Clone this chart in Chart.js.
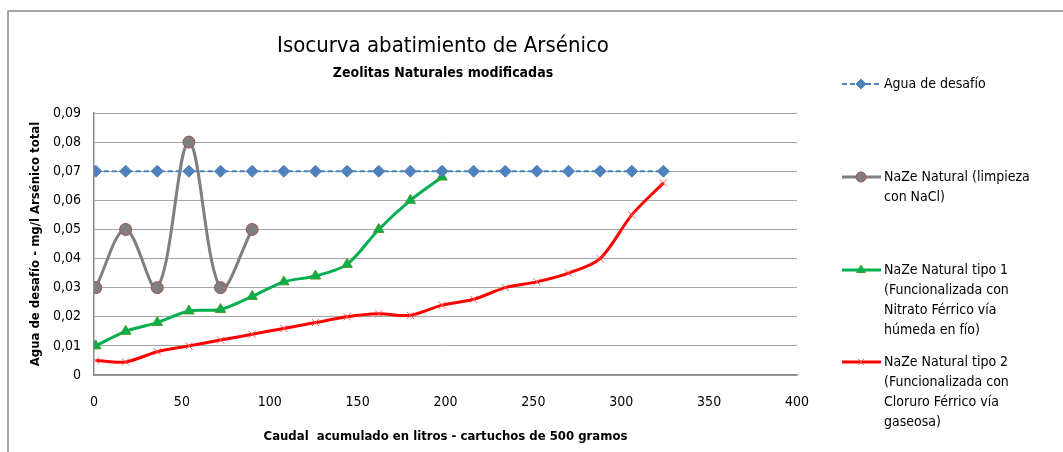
<!DOCTYPE html>
<html><head><meta charset="utf-8">
<script src="https://cdn.jsdelivr.net/npm/chart.js@4.4.0/dist/chart.umd.min.js"></script>
<style>html,body{margin:0;padding:0;background:#fff;}canvas{display:block;}</style>
</head><body>
<canvas id="c" width="1063" height="452"></canvas>
<script>
const FONT = "'Liberation Sans Narrow','Arial Narrow','DejaVu Sans Condensed',sans-serif";

const chartTitle = "Isocurva abatimiento de Arsénico";
const chartSubtitle = "Zeolitas Naturales modificadas";
const xAxisTitle = "Caudal  acumulado en litros - cartuchos de 500 gramos";
const yAxisTitle = "Agua de desafío - mg/l Arsénico total";

const xTickLabels = ["0","50","100","150","200","250","300","350","400"];
const yTickLabels = ["0","0,01","0,02","0,03","0,04","0,05","0,06","0,07","0,08","0,09"];

const aguaX = [1,18,36,54,72,90,108,126,144,162,180,198,216,234,252,270,288,306,324];
const aguaY = [0.07,0.07,0.07,0.07,0.07,0.07,0.07,0.07,0.07,0.07,0.07,0.07,0.07,0.07,0.07,0.07,0.07,0.07,0.07];

const naclX = [1,18,36,54,72,90];
const naclY = [0.03,0.05,0.03,0.08,0.03,0.05];

const tipo1X = [1,18,36,54,72,90,108,126,144,162,180,198];
const tipo1Y = [0.01,0.015,0.018,0.022,0.0225,0.027,0.032,0.034,0.038,0.05,0.06,0.068];

const tipo2X = [1,18,36,54,72,90,108,126,144,162,180,198,216,234,252,270,288,306,324];
const tipo2Y = [0.005,0.0045,0.008,0.01,0.012,0.014,0.016,0.018,0.02,0.021,0.0205,0.024,0.026,0.03,0.032,0.035,0.04,0.055,0.066];

const seriesLabels = ["Agua de desafío","NaZe Natural (limpieza con NaCl)","NaZe Natural tipo 1 (Funcionalizada con Nitrato Férrico vía húmeda en fío)","NaZe Natural tipo 2 (Funcionalizada con Cloruro Férrico vía gaseosa)"];
const legendLines = [
  ["Agua de desafío"],
  ["NaZe Natural (limpieza","con NaCl)"],
  ["NaZe Natural tipo 1","(Funcionalizada con","Nitrato Férrico vía","húmeda en fío)"],
  ["NaZe Natural tipo 2","(Funcionalizada con","Cloruro Férrico vía","gaseosa)"]
];

const pts = (xs, ys) => xs.map((x, i) => ({x: x, y: ys[i]}));

const decor = {
  id: 'decor',
  beforeDraw(chart) {
    const ctx = chart.ctx;
    ctx.save();
    ctx.strokeStyle = '#8c8c8c';
    ctx.lineWidth = 1.5;
    ctx.beginPath();
    ctx.moveTo(8, 452); ctx.lineTo(8, 11); ctx.lineTo(1063, 11);
    ctx.stroke();
    ctx.restore();
  },
  afterDraw(chart) {
    const ctx = chart.ctx;
    ctx.save();
    ctx.fillStyle = '#000';
    ctx.textAlign = 'center';
    ctx.textBaseline = 'middle';
    ctx.font = "22px " + FONT;
    ctx.fillText(chartTitle, 443, 46);
    ctx.font = "bold 14px " + FONT;
    ctx.fillText(chartSubtitle, 443, 73);
    const ys = [84, 177, 270, 362];
    const lh = 20;
    ctx.textAlign = 'left';
    ctx.font = "14px " + FONT;
    chart.data.datasets.forEach((ds, i) => {
      const y = ys[i];
      ctx.save();
      ctx.strokeStyle = ds.borderColor;
      ctx.lineWidth = ds.borderWidth;
      ctx.setLineDash(ds.borderDash || []);
      ctx.beginPath(); ctx.moveTo(842, y); ctx.lineTo(881, y); ctx.stroke();
      ctx.restore();
      ctx.save();
      ctx.fillStyle = ds.pointBackgroundColor; ctx.strokeStyle = ds.pointBorderColor; ctx.lineWidth = ds.pointBorderWidth;
      Chart.helpers.drawPoint(ctx, {pointStyle: ds.pointStyle, radius: ds.pointRadius - 1, rotation: 0, borderWidth: ds.pointBorderWidth}, 861, y);
      ctx.restore();
      ctx.fillStyle = '#000';
      legendLines[i].forEach((t, j) => ctx.fillText(t, 884, y + j * lh));
    });
    ctx.restore();
  }
};

new Chart(document.getElementById('c'), {
  type: 'line',
  data: {
    datasets: [
      {label: seriesLabels[0], data: pts(aguaX, aguaY), borderColor: '#4f81bd', borderWidth: 2, borderDash: [5,3],
       pointStyle: 'rectRot', pointRadius: 6, pointBackgroundColor: '#4f81bd', pointBorderColor: '#4f81bd', pointBorderWidth: 1, tension: 0},
      {label: seriesLabels[1], data: pts(naclX, naclY), borderColor: '#7f7f7f', borderWidth: 3,
       pointStyle: 'circle', pointRadius: 6, pointBackgroundColor: '#7f7f7f', pointBorderColor: '#a0504d', pointBorderWidth: 1, tension: 0.35},
      {label: seriesLabels[2], data: pts(tipo1X, tipo1Y), borderColor: '#00b050', borderWidth: 3,
       pointStyle: 'triangle', pointRadius: 6, pointBackgroundColor: '#00b050', pointBorderColor: '#4e9a2a', pointBorderWidth: 1, tension: 0.3},
      {label: seriesLabels[3], data: pts(tipo2X, tipo2Y), borderColor: '#ff0000', borderWidth: 3,
       pointStyle: 'crossRot', pointRadius: 5, pointBackgroundColor: '#ff0000', pointBorderColor: '#ff5050', pointBorderWidth: 1, tension: 0.3}
    ]
  },
  options: {
    responsive: false,
    animation: false,
    layout: {padding: {top: 113, right: 266, left: 0, bottom: 0}},
    plugins: {legend: {display: false}, title: {display: false}, tooltip: {enabled: false}},
    scales: {
      x: {
        type: 'linear', min: 0, max: 400,
        afterFit(s) { s.height = 77; },
        afterBuildTicks(s) { s.ticks = xTickLabels.map(v => ({value: parseFloat(v)})); },
        ticks: {padding: 19, color: '#000', font: {family: FONT, size: 14}, callback: (v, i) => xTickLabels[i]},
        grid: {display: false, drawTicks: false},
        border: {display: true, color: '#8c8c8c', width: 1.5},
        title: {display: true, text: xAxisTitle, color: '#000', font: {family: FONT, size: 13, weight: 'bold'}, padding: {top: 0, bottom: 8}}
      },
      y: {
        type: 'linear', min: 0, max: 0.09,
        afterFit(s) { s.width = 94; },
        afterBuildTicks(s) { s.ticks = yTickLabels.map(v => ({value: parseFloat(v.replace(',', '.'))})); },
        ticks: {padding: 13, color: '#000', font: {family: FONT, size: 14}, callback: (v, i) => yTickLabels[i]},
        grid: {color: '#a6a6a6', lineWidth: 1, drawTicks: false},
        border: {display: true, color: '#8c8c8c', width: 1.5},
        title: {display: true, text: yAxisTitle, color: '#000', font: {family: FONT, size: 13, weight: 'bold'}, padding: {top: 28, bottom: 0}}
      }
    }
  },
  plugins: [decor]
});
</script>
</body></html>
